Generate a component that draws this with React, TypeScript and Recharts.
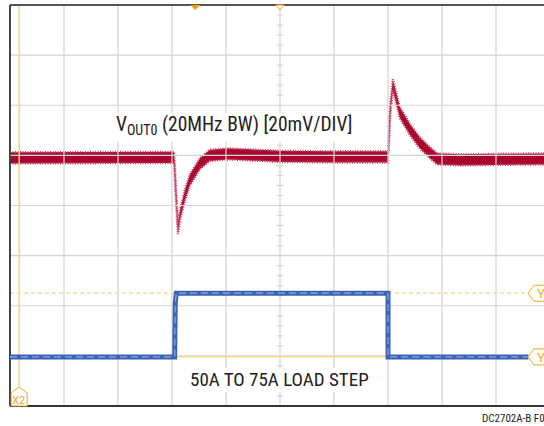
import React from 'react';
import { ComposedChart, Line, Area, XAxis, YAxis, ReferenceLine, ReferenceDot } from 'recharts';

// time in divisions (10 div across), amplitude in divisions (8 div high, 0 = bottom)
const gridX = [0, 1, 2, 3, 4, 5, 6, 7, 8, 9, 10];
const gridY = [0, 1, 2, 3, 4, 5, 6, 7, 8];
const minorTicks = [
    0.2, 0.4, 0.6, 0.8, 1.2, 1.4, 1.6, 1.8, 2.2, 2.4, 2.6, 2.8, 3.2, 3.4, 3.6, 3.8,
    4.2, 4.4, 4.6, 4.8, 5.2, 5.4, 5.6, 5.8, 6.2, 6.4, 6.6, 6.8, 7.2, 7.4, 7.6, 7.8,
];

// VOUT trace: noise band top / bottom
const voutTime = [0, 3.04, 3.07, 3.11, 3.15, 3.24, 3.33, 3.52, 3.7, 4.02, 4.44, 5.0, 6.0, 7.0, 7.04, 7.09, 7.22, 7.41, 7.59, 7.78, 7.91, 8.33, 9.0, 10];
const voutHigh = [5.06, 5.07, 4.4, 3.63, 3.92, 4.32, 4.62, 4.95, 5.11, 5.14, 5.12, 5.09, 5.08, 5.08, 6.0, 6.52, 5.96, 5.62, 5.36, 5.16, 5.04, 5.02, 5.03, 5.04];
const voutLow = [4.84, 4.85, 4.2, 3.43, 3.72, 4.1, 4.4, 4.73, 4.89, 4.92, 4.9, 4.87, 4.86, 4.86, 5.8, 6.3, 5.74, 5.4, 5.14, 4.94, 4.82, 4.8, 4.81, 4.82];

const loadTime = [0, 3.05, 3.06, 3.08, 7.0, 7.0, 9.6];
const loadLevel = [0.98, 0.98, 2.05, 2.25, 2.25, 0.98, 0.98];

const cursorY1 = 2.25;
const cursorY2 = 0.98;
const cursorX2 = 0.17;
const trigger = 3.43;

const voutData = voutTime.map((t, i) => ({ t, band: [voutLow[i], voutHigh[i]] }));
const loadData = loadTime.map((t, i) => ({ t, v: loadLevel[i] }));

const ORANGE = '#f5a623';
const CURSOR = '#ffd27a';
const GRID = '#d4d4d4';

const yTag = (label: string) => (props: any) => {
    const { cx, cy } = props;
    const x0 = cx - 22;
    return (
        <g>
            <polygon
                points={`${x0},${cy} ${x0 + 6},${cy - 8} ${x0 + 30},${cy - 8} ${x0 + 30},${cy + 8} ${x0 + 6},${cy + 8}`}
                fill="#fff"
                stroke={ORANGE}
                strokeWidth={1}
            />
            <text x={x0 + 9} y={cy + 5} fill={ORANGE} fontSize={13} fontFamily="Liberation Sans Narrow, Roboto, sans-serif">{label}</text>
        </g>
    );
};

const xTag = (props: any) => {
    const { cx, cy } = props;
    return (
        <g>
            <polygon
                points={`${cx},${cy - 19} ${cx + 8},${cy - 13} ${cx + 8},${cy} ${cx - 8},${cy} ${cx - 8},${cy - 13}`}
                fill="#fff"
                stroke={ORANGE}
                strokeWidth={1}
            />
            <text x={cx - 7} y={cy - 2} fill={ORANGE} fontSize={11} fontFamily="Liberation Sans Narrow, Roboto, sans-serif">X2</text>
        </g>
    );
};

const trigMark = (props: any) => {
    const { cx, cy } = props;
    return <polygon points={`${cx - 5},${cy} ${cx + 5},${cy} ${cx},${cy + 5}`} fill="#f39c12" />;
};

const hollowMark = (props: any) => {
    const { cx, cy } = props;
    return <polygon points={`${cx - 4},${cy} ${cx + 4},${cy} ${cx},${cy + 5}`} fill="#fff" stroke={ORANGE} strokeWidth={1} />;
};

const font = '"Liberation Sans Narrow", "Roboto Condensed", Roboto, sans-serif';

export default function App() {
    return (
        <div style={{ position: 'absolute', left: 0, top: 0, width: 544, height: 426, overflow: 'hidden', background: '#fff' }}>
            <ComposedChart width={560} height={426} margin={{ top: 5, right: 10, bottom: 20, left: 10 }}>
                <XAxis type="number" dataKey="t" domain={[0, 10]} hide allowDataOverflow />
                <YAxis type="number" domain={[0, 8]} hide allowDataOverflow />

                {gridX.map((x) => (
                    <ReferenceLine key={`gx${x}`} x={x} stroke={GRID} strokeWidth={1.2} />
                ))}
                {gridY.map((y) => (
                    <ReferenceLine key={`gy${y}`} y={y} stroke={GRID} strokeWidth={1.2} />
                ))}
                {minorTicks.map((y) => (
                    <ReferenceLine key={`mt${y}`} segment={[{ x: 4.94, y }, { x: 5.06, y }]} stroke={GRID} strokeWidth={1.2} />
                ))}

                <ReferenceLine x={cursorX2} stroke={CURSOR} strokeWidth={1.5} />
                <ReferenceLine y={cursorY1} stroke={CURSOR} strokeWidth={1.2} strokeDasharray="4 3" />
                <ReferenceLine y={cursorY2} stroke={CURSOR} strokeWidth={1.2} />

                <ReferenceLine x={0} stroke="#444" strokeWidth={2} />
                <ReferenceLine y={8} stroke="#555" strokeWidth={2} />
                <ReferenceLine y={0} stroke="#333" strokeWidth={2} />

                <Area data={voutData} dataKey="band" type="linear" fill="#a8062f" fillOpacity={1} stroke="#c8405e" strokeWidth={2.5} strokeDasharray="1 1.5" dot={false} activeDot={false} isAnimationActive={false} />

                <Line data={loadData} dataKey="v" type="linear" stroke="#3a64b5" strokeWidth={5} dot={false} isAnimationActive={false} />
                <Line data={loadData} dataKey="v" type="linear" stroke="#94a6cf" strokeWidth={1.2} strokeDasharray="7 4" dot={false} isAnimationActive={false} />

                <ReferenceDot x={10} y={cursorY1} r={0} shape={yTag('Y1')} />
                <ReferenceDot x={10} y={cursorY2} r={0} shape={yTag('Y2')} />
                <ReferenceDot x={cursorX2} y={0} r={0} shape={xTag} />
                <ReferenceDot x={trigger} y={8} r={0} shape={trigMark} />
                <ReferenceDot x={5} y={8} r={0} shape={hollowMark} />
            </ComposedChart>

            <div style={{ position: 'absolute', left: 114, top: 113, fontFamily: font, fontSize: 19.5, color: '#222', whiteSpace: 'nowrap', background: '#fff', lineHeight: '24px', padding: '0 2px' }}>
                V<sub style={{ fontSize: 14, verticalAlign: -4 }}>OUT0</sub> (20MHz BW) [20mV/DIV]
            </div>
            <div style={{ position: 'absolute', left: 188, top: 368, fontFamily: font, fontSize: 19, color: '#222', whiteSpace: 'nowrap', background: '#fff', lineHeight: '24px', padding: '0 2px' }}>
                50A TO 75A LOAD STEP
            </div>
            <div style={{ position: 'absolute', left: 482, top: 412, fontFamily: font, fontSize: 11, color: '#222', whiteSpace: 'nowrap' }}>
                DC2702A-B F0
            </div>
        </div>
    );
}
